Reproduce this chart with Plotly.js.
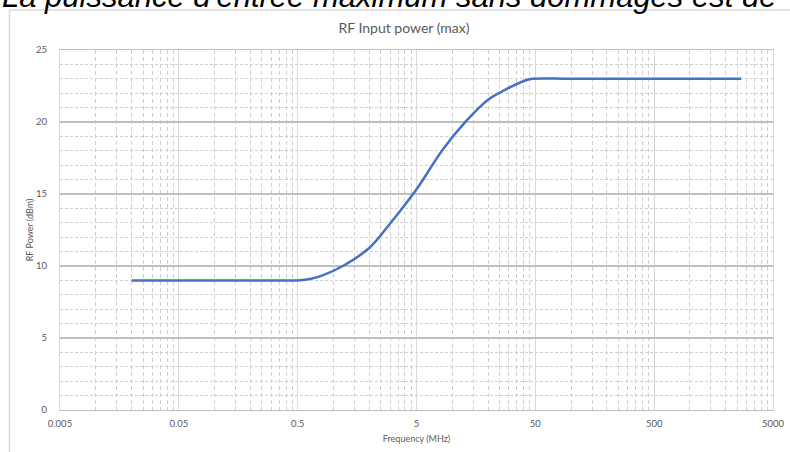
<!DOCTYPE html>
<html>
<head>
<meta charset="utf-8">
<script src="https://cdn.plot.ly/plotly-3.0.1.min.js"></script>
<style>
html,body{margin:0;padding:0;background:#fff;}
#chart{width:790px;height:452px;}
</style>
</head>
<body>
<div id="chart"></div>
<script>
// Data (frequency in MHz, power in dBm)
const freqMHz = [0.02, 0.1, 0.3, 0.5, 0.65, 0.82, 1.2, 2.0, 3.0, 4.4, 5.3, 8.3, 13, 20, 28, 40, 47, 100, 1000, 2700];
const powerDBm = [9.0, 9.0, 9.0, 9.0, 9.12, 9.37, 10.0, 11.25, 12.95, 14.7, 15.63, 18.07, 20.04, 21.55, 22.25, 22.85, 23.0, 23.0, 23.0, 23.0];

const xTickVals = [0.005, 0.05, 0.5, 5, 50, 500, 5000];
const xTickText = ["0.005", "0.05", "0.5", "5", "50", "500", "5000"];
const yTickVals = [0, 5, 10, 15, 20, 25];

const chartTitle = "RF Input power (max)";
const xTitle = "Frequency (MHz)";
const yTitle = "RF Power (dBm)";
const topText = "La puissance d'entrée maximum sans dommages est de";

// minor grid positions: k × major for k = 2..9
const xMinor = [];
xTickVals.slice(0, -1).forEach(function (m) {
  for (let k = 2; k <= 9; k++) xMinor.push(m * k);
});

const fontFam = "Lato, 'Open Sans', sans-serif";
const L = 60, R = 17, T = 50, B = 42, W = 790, H = 452;
const pw = W - L - R, ph = H - T - B;
function px2paperX(p) { return (p - L) / pw; }
function px2paperY(p) { return (H - B - p) / ph; }

const trace = {
  x: freqMHz,
  y: powerDBm,
  type: "scatter",
  mode: "lines",
  line: { color: "#4472C4", width: 2.5, shape: "spline", smoothing: 1.0 },
  hoverinfo: "skip"
};

const layout = {
  width: W,
  height: H,
  margin: { l: L, r: R, t: T, b: B, pad: 0 },
  paper_bgcolor: "#ffffff",
  plot_bgcolor: "#ffffff",
  showlegend: false,
  font: { family: fontFam, color: "#595959", size: 9 },
  title: {
    text: chartTitle,
    font: { family: fontFam, size: 14, color: "#595959" },
    x: 404 / W, xref: "container", xanchor: "center",
    y: 1 - 28 / H, yref: "container", yanchor: "middle"
  },
  xaxis: {
    type: "log",
    range: [Math.log10(0.005), Math.log10(5000)],
    tickmode: "array",
    tickvals: xTickVals,
    ticktext: xTickText,
    ticks: "",
    showgrid: true,
    gridcolor: "#d9d9d9",
    gridwidth: 1,
    showline: true,
    linecolor: "#bfbfbf",
    linewidth: 1.3,
    mirror: true,
    zeroline: false,
    ticklabelstandoff: 4,
    tickfont: { family: fontFam, size: 9.5, color: "#595959" },
    title: { text: xTitle, font: { family: fontFam, size: 9, color: "#595959" }, standoff: 8 },
    minor: {
      tickmode: "array",
      tickvals: xMinor,
      showgrid: true,
      gridcolor: "#cfcfcf",
      gridwidth: 1,
      griddash: "4px,3px",
      ticks: ""
    },
    fixedrange: true
  },
  yaxis: {
    range: [0, 25],
    tickmode: "array",
    tickvals: yTickVals,
    ticks: "",
    showgrid: true,
    gridcolor: "#bfbfbf",
    gridwidth: 1.5,
    showline: true,
    linecolor: "#d9d9d9",
    linewidth: 1,
    mirror: true,
    zeroline: false,
    ticklabelstandoff: 10,
    tickfont: { family: fontFam, size: 9.5, color: "#595959" },
    title: { text: yTitle, font: { family: fontFam, size: 9, color: "#595959" }, standoff: 0 },
    minor: {
      dtick: 1,
      showgrid: true,
      gridcolor: "#d0d0d0",
      gridwidth: 1,
      griddash: "3px,2px",
      ticks: ""
    },
    fixedrange: true
  },
  shapes: [
    {
      type: "rect", xref: "paper", yref: "paper", layer: "below",
      x0: px2paperX(9.5), x1: px2paperX(820),
      y0: px2paperY(480), y1: px2paperY(10),
      line: { color: "#d9d9d9", width: 1.5 },
      fillcolor: "rgba(0,0,0,0)"
    }
  ],
  annotations: [
    {
      text: topText,
      xref: "paper", yref: "paper",
      x: px2paperX(0), xanchor: "left",
      y: px2paperY(16), yanchor: "bottom",
      showarrow: false,
      font: { family: "'Liberation Sans', Arial, sans-serif", size: 31, color: "#000000", style: "italic" }
    }
  ]
};

Plotly.newPlot("chart", [trace], layout, { displayModeBar: false, staticPlot: true });
</script>
</body>
</html>
